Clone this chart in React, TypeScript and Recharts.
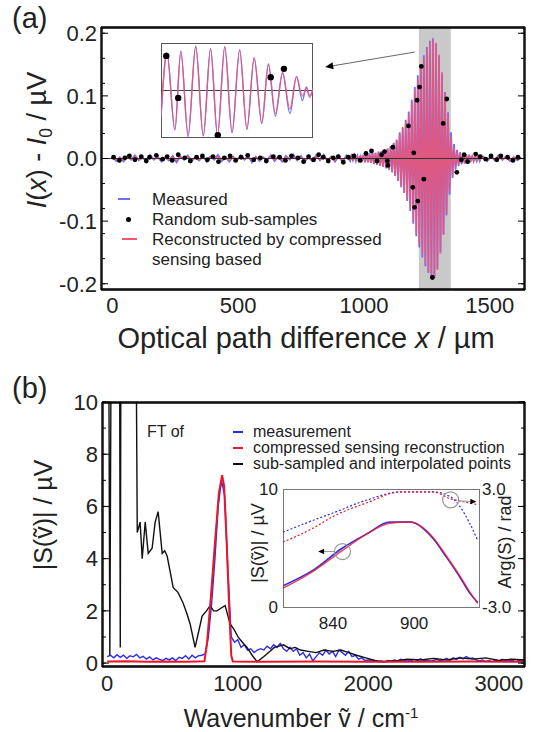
import React from 'react';
import {
  ComposedChart, Line, Scatter, XAxis, YAxis,
  ReferenceArea, ReferenceLine, ReferenceDot,
} from 'recharts';

const FONT = '"Liberation Sans", Arial, Helvetica, sans-serif';

// ---------- panel (a): interferogram ----------
const baseStep = 15;
const measuredBase = [
  0.003, -0.004, 0.002, -0.005, 0.004, -0.002, 0.005, -0.003, 0.001, -0.004,
  0.006, -0.002, 0.003, -0.005, 0.002, -0.003, 0.004, -0.006, 0.003, -0.002,
  0.005, -0.004, 0.002, -0.003, 0.004, -0.005, 0.003, -0.002, 0.006, -0.004,
  0.002, -0.005, 0.003, -0.003, 0.005, -0.002, 0.004, -0.006, 0.003, -0.004,
  0.002, -0.003, 0.005, -0.004, 0.003, -0.005, 0.004, -0.002, 0.006, -0.003,
  0.004, -0.005, 0.002, -0.004, 0.005, -0.003, 0.006, -0.004, 0.003, -0.005,
  0.004, -0.006, 0.005, -0.004,
];
const reconBase = [
  0.002, -0.002, 0.001, -0.003, 0.002, -0.001, 0.003, -0.002, 0.001, -0.002,
  0.003, -0.001, 0.002, -0.003, 0.001, -0.002, 0.002, -0.003, 0.002, -0.001,
  0.003, -0.002, 0.001, -0.002, 0.002, -0.003, 0.002, -0.001, 0.003, -0.002,
  0.001, -0.003, 0.002, -0.002, 0.003, -0.001, 0.002, -0.003, 0.002, -0.002,
  0.001, -0.002, 0.003, -0.002, 0.002, -0.003, 0.002, -0.001, 0.003, -0.002,
  0.002, -0.003, 0.001, -0.002, 0.003, -0.002, 0.003, -0.002, 0.002, -0.003,
  0.002, -0.003, 0.003, -0.002,
];
const burstStart = 950;
const burstStep = 6;
const measuredBurst = [
  0.004, -0.003, 0.005, -0.004, 0.004, -0.005, 0.005, -0.004, 0.006, -0.006,
  0.007, -0.006, 0.008, -0.007, 0.008, -0.009, 0.009, -0.010, 0.011, -0.012,
  0.012, -0.013, 0.014, -0.016, 0.016, -0.018, 0.020, -0.022, 0.025, -0.028,
  0.030, -0.036, 0.042, -0.046, 0.050, -0.055, 0.062, -0.068, 0.075, -0.084,
  0.094, -0.104, 0.114, -0.124, 0.133, -0.142, 0.150, -0.158, 0.165, -0.172,
  0.178, -0.183, 0.188, -0.191, 0.192, -0.191, 0.184, -0.176, 0.164, -0.150,
  0.136, -0.121, 0.106, -0.091, 0.074, -0.058, 0.042, -0.031, 0.023, -0.018,
  0.014, -0.012, 0.010, -0.009, 0.008, -0.008, 0.007, -0.006, 0.006, -0.005,
  0.005, -0.004, 0.004, -0.004, 0.003, -0.004, 0.003,
];
const reconBurst = [
  0.003, -0.002, 0.003, -0.003, 0.003, -0.004, 0.004, -0.004, 0.005, -0.005,
  0.006, -0.006, 0.007, -0.007, 0.008, -0.008, 0.009, -0.009, 0.010, -0.011,
  0.012, -0.013, 0.014, -0.015, 0.016, -0.018, 0.020, -0.022, 0.024, -0.027,
  0.030, -0.035, 0.040, -0.045, 0.050, -0.055, 0.060, -0.066, 0.072, -0.080,
  0.090, -0.100, 0.110, -0.120, 0.128, -0.137, 0.145, -0.152, 0.160, -0.168,
  0.175, -0.181, 0.186, -0.189, 0.190, -0.190, 0.185, -0.178, 0.166, -0.152,
  0.138, -0.122, 0.105, -0.088, 0.070, -0.052, 0.036, -0.026, 0.018, -0.014,
  0.011, -0.010, 0.008, -0.007, 0.007, -0.006, 0.006, -0.005, 0.005, -0.004,
  0.004, -0.004, 0.003, -0.003, 0.003, -0.002, 0.002,
];
const tailStart = 1475;
const tailStep = 15;
const measuredTail = [0.003, -0.004, 0.004, -0.003, 0.005, -0.002, 0.003, -0.004, 0.002, -0.003, 0.002];
const reconTail = [0.002, -0.003, 0.003, -0.002, 0.003, -0.002, 0.002, -0.003, 0.002, -0.002, 0.001];

const sampleX = [
  5, 28, 50, 68, 90, 115, 135, 148, 175, 200, 218, 238, 262, 288, 310, 335, 358, 378, 400, 422,
  445, 468, 490, 512, 538, 562, 588, 612, 640, 665, 688, 712, 738, 760, 780, 800, 820, 838, 858, 878,
  898, 918, 938, 960, 985, 1008, 1030, 1052, 1070, 1082, 1093, 1095, 1115, 1177, 1194, 1198, 1201, 1211, 1214, 1221,
  1228, 1238, 1272, 1315, 1329, 1369, 1387, 1398, 1412, 1444, 1462, 1484, 1505, 1528, 1544, 1571, 1592, 1612,
];
const sampleY = [
  0.002, -0.003, 0.001, 0.004, -0.002, 0.003, -0.004, 0.002, 0.005, -0.001, 0.003, -0.003, 0.006, 0.001, -0.004, 0.002, 0.004, -0.002, 0.003, -0.005,
  0.001, 0.004, -0.003, 0.002, 0.005, -0.002, 0.001, -0.004, 0.003, 0.002, -0.003, 0.004, 0.001, -0.005, 0.003, -0.002, 0.006, 0.002, -0.004, 0.001,
  0.003, -0.006, 0.002, 0.004, -0.003, 0.008, 0.012, -0.004, 0.006, 0.011, -0.004, -0.011, 0.018, 0.052, -0.046, 0.009, -0.078, 0.093, -0.068, 0.114,
  0.147, -0.033, -0.190, 0.056, 0.095, -0.022, -0.002, 0.006, -0.005, 0.007, 0.003, -0.001, 0.004, -0.002, 0.004, 0.002, -0.003, 0.002,
];

const xTicksA = [0, 500, 1000, 1500];
const yTicksA = [-0.2, -0.1, 0, 0.1, 0.2];
const xMinorA = [0, 100, 200, 300, 400, 500, 600, 700, 800, 900, 1000, 1100, 1200, 1300, 1400, 1500, 1600];
const yMinorA = [-0.2, -0.18, -0.16, -0.14, -0.12, -0.1, -0.08, -0.06, -0.04, -0.02, 0, 0.02, 0.04, 0.06, 0.08, 0.1, 0.12, 0.14, 0.16, 0.18, 0.2];

// zoomed inset of the burst (peaks / troughs)
const insetX = [40, 58, 82, 100, 122, 145, 168, 190, 211, 233, 255, 278, 300, 322, 345, 365, 386, 408, 430, 450, 468, 480, 490, 500];
const insetRed = [-0.55, 0.8, -0.84, 0.84, -0.96, 0.96, -0.97, 0.91, -0.97, 0.95, -0.91, 0.88, -0.84, 0.72, -0.7, 0.58, -0.5, 0.4, -0.4, 0.3, -0.12, 0.05, -0.15, 0.05];
const insetBlue = [-0.6, 0.82, -0.86, 0.86, -1.0, 0.96, -0.99, 0.91, -0.98, 0.95, -0.92, 0.88, -0.84, 0.7, -0.72, 0.56, -0.56, 0.38, -0.5, 0.3, -0.22, 0.08, -0.12, 0.02];
const insetSampleX = [56, 92, 212, 372, 412];
const insetSampleY = [0.75, -0.16, -0.97, 0.29, 0.47];

// ---------- panel (b): spectra ----------
const measStep = 25;
const measuredSpectrum = [
  0.25, 0.3, 0.2, 0.32, 0.22, 0.3, 0.18, 0.28, 0.24, 0.33,
  0.2, 0.26, 0.15, 0.24, 0.12, 0.2, 0.14, 0.1, 0.18, 0.12,
  0.2, 0.1, 0.22, 0.18, 0.28, 0.16, 0.3, 0.2, 0.28, 0.3,
  0.35, 1.0, 2.3, 4.0, 6.0, 7.0, 6.4, 3.5, 1.0, 0.8,
  0.9, 0.6, 0.7, 0.5, 0.55, 0.4, 0.5, 0.55, 0.5, 0.65,
  0.55, 0.7, 0.6, 0.75, 0.55, 0.45, 0.6, 0.45, 0.55, 0.3,
  0.4, 0.2, 0.35, 0.08, 0.25, 0.4, 0.3, 0.5, 0.35, 0.45,
  0.25, 0.5, 0.4, 0.3, 0.45, 0.25, 0.3, 0.15, 0.2, 0.1,
  0.12, 0.08, 0.1, 0.05, 0.08, 0.05, 0.1, 0.06, 0.12, 0.08,
  0.15, 0.1, 0.12, 0.08, 0.14, 0.1, 0.16, 0.09, 0.12, 0.07,
  0.1, 0.14, 0.08, 0.12, 0.18, 0.1, 0.2, 0.14, 0.22, 0.16,
  0.25, 0.18, 0.2, 0.12, 0.08, 0.12, 0.06, 0.1, 0.05, 0.12,
  0.08, 0.15, 0.1, 0.12, 0.08, 0.14, 0.1, 0.12, 0.09,
];
const csSpectrum = [
  [0, 0.06], [150, 0.07], [300, 0.05], [450, 0.06], [600, 0.05], [745, 0.07], [765, 0.8], [795, 2.6],
  [825, 4.6], [855, 6.5], [880, 7.2], [895, 6.8], [915, 4.6], [935, 2.0], [950, 0.3], [962, 0.06],
  [1200, 0.05], [1600, 0.06], [2000, 0.05], [2400, 0.05], [2800, 0.06], [3200, 0.05],
];
const interpSpectrum = [
  [0, 30], [20, 0.3], [44, 30], [87, 30], [100, 0.6], [112, 30], [201, 30], [230, 5.0], [252, 5.4],
  [268, 4.0], [291, 5.4], [314, 4.2], [344, 4.4], [367, 5.4], [390, 5.8], [421, 4.2], [440, 4.3],
  [459, 4.1], [482, 3.5], [505, 2.9], [543, 2.7], [581, 2.3], [610, 1.9], [635, 1.5], [673, 0.6],
  [700, 1.2], [727, 1.8], [760, 2.0], [788, 2.2], [815, 2.0], [842, 2.0], [870, 2.1], [903, 2.2],
  [925, 1.8], [941, 1.5], [970, 1.3], [1002, 1.0], [1035, 0.8], [1071, 0.6], [1110, 0.3], [1148, 0.05],
  [1200, 0.25], [1247, 0.45], [1280, 0.6], [1315, 0.65], [1350, 0.7], [1400, 0.55], [1440, 0.6],
  [1480, 0.5], [1540, 0.45], [1600, 0.4], [1660, 0.5], [1730, 0.45], [1790, 0.5], [1850, 0.4],
  [1910, 0.3], [1980, 0.2], [2050, 0.1], [2110, 0.05], [2170, 0.08], [2230, 0.1], [2300, 0.15],
  [2400, 0.12], [2500, 0.18], [2600, 0.12], [2700, 0.2], [2800, 0.15], [2900, 0.2], [3000, 0.1],
  [3100, 0.15], [3200, 0.12],
];
const xTicksB = [0, 1000, 2000, 3000];
const yTicksB = [0, 2, 4, 6, 8, 10];
const xMinorB = [0, 200, 400, 600, 800, 1000, 1200, 1400, 1600, 1800, 2000, 2200, 2400, 2600, 2800, 3000, 3200];
const yMinorB = [0, 0.5, 1, 1.5, 2, 2.5, 3, 3.5, 4, 4.5, 5, 5.5, 6, 6.5, 7, 7.5, 8, 8.5, 9, 9.5, 10];

// inset of (b): magnitude and phase around the peak
const magMeasured = [[803, 1.8], [825, 3.1], [847, 5.0], [865, 6.2], [882, 7.2], [897, 7.2], [914, 5.8], [924, 4.2], [934, 2.5], [941, 1.2], [947, 0.4]];
const magCs = [[803, 1.6], [825, 3.0], [847, 4.8], [865, 6.2], [882, 7.1], [897, 7.2], [914, 5.9], [924, 4.3], [934, 2.6], [941, 1.3], [947, 0.3]];
const phaseMeasured = [[803, 0.8], [825, 1.4], [840, 1.78], [865, 2.44], [890, 2.85], [914, 2.85], [927, 2.6], [934, 2.1], [941, 1.27], [947, 0.4]];
const phaseCs = [[803, 0.3], [825, 1.0], [840, 1.6], [865, 2.3], [890, 2.85], [914, 2.85], [927, 2.5], [940, 2.3], [947, 2.2]];

// ---------- helpers ----------
const seg = (ys: number[], x0: number, step: number) => ys.map((y, i) => ({ x: x0 + i * step, y }));
const pairs = (p: number[][]) => p.map(([x, y]) => ({ x, y }));
const zip = (xs: number[], ys: number[]) => xs.map((x, i) => ({ x, y: ys[i] }));

const measuredA = [...seg(measuredBase, 0, baseStep), ...seg(measuredBurst, burstStart, burstStep), ...seg(measuredTail, tailStart, tailStep)];
const reconA = [...seg(reconBase, 0, baseStep), ...seg(reconBurst, burstStart, burstStep), ...seg(reconTail, tailStart, tailStep)];
const samplesA = zip(sampleX, sampleY);

const BLUE_A = '#6e6cff';
const RED_A = '#f2566c';
const BLUE_B = '#2b2bf0';
const RED_B = '#e8162a';

const dot = (r: number) => (p: any) => <circle cx={p.cx} cy={p.cy} r={r} fill="#000" />;
const noLabel = () => <g />;

const arrow = (size: number, color: string) => (p: any) => {
  const { x1, y1, x2, y2 } = p;
  const a = Math.atan2(y2 - y1, x2 - x1);
  const hx = x2 - size * Math.cos(a);
  const hy = y2 - size * Math.sin(a);
  const w = size * 0.45;
  const pts = `${x2},${y2} ${hx - w * Math.sin(a)},${hy + w * Math.cos(a)} ${hx + w * Math.sin(a)},${hy - w * Math.cos(a)}`;
  return (
    <g>
      <line x1={x1} y1={y1} x2={hx} y2={hy} stroke={color} strokeWidth={1} />
      <polygon points={pts} fill="#000" />
    </g>
  );
};

// frame with inward ticks on all four sides
function frameAxes(id: string, xd: number[], yd: number[], xt: number[], yt: number[], size: number) {
  const line = { stroke: '#000', strokeWidth: 1.4 };
  const tl = { stroke: '#000', strokeWidth: 1 };
  const common = { allowDataOverflow: true, tick: noLabel, tickSize: size, mirror: true, axisLine: line, tickLine: tl };
  return [
    <XAxis key={id + 'b'} xAxisId={id + 'b'} orientation="bottom" type="number" domain={xd} ticks={xt} height={1} {...common} />,
    <XAxis key={id + 't'} xAxisId={id + 't'} orientation="top" type="number" domain={xd} ticks={xt} height={1} {...common} />,
    <YAxis key={id + 'l'} yAxisId={id + 'l'} orientation="left" type="number" domain={yd} ticks={yt} width={1} {...common} />,
    <YAxis key={id + 'r'} yAxisId={id + 'r'} orientation="right" type="number" domain={yd} ticks={yt} width={1} {...common} />,
  ];
}

const Txt = ({ x, y, size, children, align = 'center', rotate = false }: any) => (
  <div
    style={{
      position: 'absolute', left: x, top: y, fontFamily: FONT, fontSize: size, lineHeight: 1,
      whiteSpace: 'nowrap', color: '#222',
      transform: `${align === 'center' ? 'translate(-50%, -50%)' : 'translateY(-50%)'}${rotate ? ' rotate(-90deg)' : ''}`,
    }}
  >
    {children}
  </div>
);

const tickA = { fill: '#222', fontSize: 22, fontFamily: FONT };
const tickIn = { fill: '#222', fontSize: 17, fontFamily: FONT };

const xDomA = [-45, 1640];
const yDomA = [-0.21, 0.21];
const xDomB = [-40, 3200];
const yDomB = [-0.15, 10];

export default function App() {
  return (
    <div style={{ position: 'absolute', left: 0, top: 0, width: 534, height: 732, background: '#fff', overflow: 'hidden' }}>
      {/* ---------------- panel (a) ---------------- */}
      <div style={{ position: 'absolute', left: 0, top: 0 }}>
        <ComposedChart width={534} height={360} margin={{ top: 27, right: 9, bottom: 0, left: 0 }}>
          <XAxis xAxisId="a" dataKey="x" type="number" domain={xDomA} allowDataOverflow ticks={xTicksA}
            tickLine={false} axisLine={false} tick={tickA} tickSize={5} tickMargin={2} height={70} />
          <YAxis yAxisId="a" dataKey="y" type="number" domain={yDomA} allowDataOverflow ticks={yTicksA}
            tickFormatter={(v: number) => v.toFixed(1)} tickLine={false} axisLine={false} tick={tickA}
            tickSize={2} tickMargin={2} width={101} />
          {frameAxes('am', xDomA, yDomA, xMinorA, yMinorA, 3)}
          {frameAxes('aM', xDomA, yDomA, xTicksA, yTicksA, 7)}
          <ReferenceArea xAxisId="a" yAxisId="a" x1={1218} x2={1345} y1={yDomA[0]} y2={yDomA[1]} fill="#c9c9c9" fillOpacity={1} stroke="none" />
          <Line xAxisId="a" yAxisId="a" data={measuredA} dataKey="y" type="linear" stroke={BLUE_A} strokeWidth={1.8} dot={false} isAnimationActive={false} />
          <Line xAxisId="a" yAxisId="a" data={reconA} dataKey="y" type="linear" stroke={RED_A} strokeOpacity={0.85} strokeWidth={1.6} dot={false} isAnimationActive={false} />
          <ReferenceLine xAxisId="a" yAxisId="a" y={0} stroke="#333" strokeWidth={1} />
          <Scatter xAxisId="a" yAxisId="a" data={samplesA} dataKey="y" shape={dot(2.4)} isAnimationActive={false} />
          <ReferenceLine xAxisId="a" yAxisId="a" segment={[{ x: 1202, y: 0.17 }, { x: 846, y: 0.146 }]} shape={arrow(8, '#666')} />
        </ComposedChart>
      </div>

      {/* inset of (a) */}
      <div style={{ position: 'absolute', left: 161, top: 43, width: 152, height: 95, border: '1px solid #555', boxSizing: 'border-box' }} />
      <div style={{ position: 'absolute', left: 161, top: 43 }}>
        <ComposedChart width={152} height={95} margin={{ top: 0, right: 0, bottom: 0, left: 0 }}>
          <XAxis dataKey="x" type="number" domain={[40, 500]} hide allowDataOverflow />
          <YAxis dataKey="y" type="number" domain={[-1.03, 1.03]} hide allowDataOverflow />
          <ReferenceLine y={0} stroke="#444" strokeWidth={1} />
          <Line data={zip(insetX, insetBlue)} dataKey="y" type="monotone" stroke={BLUE_A} strokeWidth={1.3} dot={false} isAnimationActive={false} />
          <Line data={zip(insetX, insetRed)} dataKey="y" type="monotone" stroke={RED_A} strokeOpacity={0.85} strokeWidth={1.3} dot={false} isAnimationActive={false} />
          <Scatter data={zip(insetSampleX, insetSampleY)} dataKey="y" shape={dot(3.2)} isAnimationActive={false} />
        </ComposedChart>
      </div>

      <Txt x={12} y={18} size={29} align="left">(a)</Txt>
      <Txt x={40} y={140} size={27} rotate>
        <i>I</i>(<i>x</i>) - <i>I</i><sub style={{ fontSize: '0.65em' }}>0</sub> / µV
      </Txt>
      <Txt x={306} y={338} size={29}>
        Optical path difference <i>x</i> / µm
      </Txt>

      {/* legend (a) */}
      <div style={{ position: 'absolute', left: 118, top: 198, width: 12, height: 1.5, background: BLUE_A }} />
      <Txt x={152} y={199} size={17} align="left">Measured</Txt>
      <div style={{ position: 'absolute', left: 126, top: 217, width: 5, height: 5, borderRadius: 3, background: '#000' }} />
      <Txt x={152} y={219} size={17} align="left">Random sub-samples</Txt>
      <div style={{ position: 'absolute', left: 122, top: 238, width: 15, height: 1.5, background: RED_A }} />
      <Txt x={152} y={239} size={17} align="left">Reconstructed by compressed</Txt>
      <Txt x={152} y={259} size={17} align="left">sensing based</Txt>

      {/* ---------------- panel (b) ---------------- */}
      <div style={{ position: 'absolute', left: 0, top: 370 }}>
        <ComposedChart width={534} height={362} margin={{ top: 32, right: 9, bottom: 0, left: 0 }}>
          <XAxis xAxisId="b" dataKey="x" type="number" domain={xDomB} allowDataOverflow ticks={xTicksB}
            tickLine={false} axisLine={false} tick={tickA} tickSize={6} tickMargin={2} height={65} />
          <YAxis yAxisId="b" dataKey="y" type="number" domain={yDomB} allowDataOverflow ticks={yTicksB}
            tickLine={false} axisLine={false} tick={tickA} tickSize={2} tickMargin={2} width={102} />
          {frameAxes('bm', xDomB, yDomB, xMinorB, yMinorB, 3)}
          {frameAxes('bM', xDomB, yDomB, xTicksB, yTicksB, 7)}
          <Line xAxisId="b" yAxisId="b" data={seg(measuredSpectrum, 0, measStep)} dataKey="y" type="linear" stroke={BLUE_B} strokeWidth={1.4} dot={false} isAnimationActive={false} />
          <Line xAxisId="b" yAxisId="b" data={pairs(interpSpectrum)} dataKey="y" type="linear" stroke="#111" strokeWidth={1.4} dot={false} isAnimationActive={false} />
          <Line xAxisId="b" yAxisId="b" data={pairs(csSpectrum)} dataKey="y" type="linear" stroke={RED_B} strokeWidth={2} dot={false} isAnimationActive={false} />
        </ComposedChart>
      </div>

      {/* inset of (b) */}
      <div style={{ position: 'absolute', left: 283, top: 489, width: 197, height: 119, border: '1px solid #777', boxSizing: 'border-box' }} />
      <div style={{ position: 'absolute', left: 240, top: 470 }}>
        <ComposedChart width={300} height={170} margin={{ top: 19, right: 21, bottom: 0, left: 0 }}>
          <XAxis dataKey="x" type="number" domain={[803, 948]} allowDataOverflow ticks={[840, 900]}
            tickLine={false} axisLine={false} tick={tickIn} tickSize={8} tickMargin={2} height={33} />
          <YAxis yAxisId="mag" dataKey="y" type="number" domain={[0, 10]} allowDataOverflow ticks={[0, 10]}
            tickLine={false} axisLine={false} tick={tickIn} tickSize={2} tickMargin={3} width={43} />
          <YAxis yAxisId="ph" dataKey="y" orientation="right" type="number" domain={[-3, 3]} allowDataOverflow ticks={[-3, 3]}
            tickFormatter={(v: number) => v.toFixed(1)} tickLine={false} axisLine={false} tick={tickIn}
            tickSize={1} tickMargin={2} width={40} />
          <Line yAxisId="ph" data={pairs(phaseMeasured)} dataKey="y" type="monotone" stroke={BLUE_B} strokeWidth={1.2} strokeDasharray="2 2" dot={false} isAnimationActive={false} />
          <Line yAxisId="ph" data={pairs(phaseCs)} dataKey="y" type="monotone" stroke={RED_B} strokeWidth={1.2} strokeDasharray="2 2" dot={false} isAnimationActive={false} />
          <Line yAxisId="mag" data={pairs(magMeasured)} dataKey="y" type="monotone" stroke={BLUE_B} strokeWidth={1.5} dot={false} isAnimationActive={false} />
          <Line yAxisId="mag" data={pairs(magCs)} dataKey="y" type="monotone" stroke={RED_B} strokeOpacity={0.8} strokeWidth={1.5} dot={false} isAnimationActive={false} />
          <ReferenceDot yAxisId="mag" x={847} y={4.7} r={8} fill="none" stroke="#999" strokeWidth={1.2} />
          <ReferenceDot yAxisId="ph" x={927} y={2.45} r={8} fill="none" stroke="#999" strokeWidth={1.2} />
          <ReferenceLine yAxisId="mag" segment={[{ x: 841, y: 4.7 }, { x: 829, y: 4.7 }]} shape={arrow(6, '#999')} />
          <ReferenceLine yAxisId="ph" segment={[{ x: 933, y: 2.4 }, { x: 946, y: 2.35 }]} shape={arrow(6, '#999')} />
        </ComposedChart>
      </div>

      <Txt x={12} y={388} size={29} align="left">(b)</Txt>
      <Txt x={43} y={515} size={25} rotate>|S(ṽ)| / µV</Txt>
      <Txt x={301} y={718} size={25}>
        Wavenumber ṽ / cm<sup style={{ fontSize: '0.6em' }}>-1</sup>
      </Txt>
      <Txt x={258} y={543} size={18} rotate>|S(ṽ)| / µV</Txt>
      <Txt x={505} y={542} size={18} rotate>Arg(S) / rad</Txt>

      {/* legend (b) */}
      <Txt x={147} y={432} size={16} align="left">FT of</Txt>
      <div style={{ position: 'absolute', left: 233, top: 431, width: 10, height: 1.5, background: BLUE_B }} />
      <Txt x={253} y={432} size={16} align="left">measurement</Txt>
      <div style={{ position: 'absolute', left: 233, top: 447, width: 10, height: 1.5, background: RED_B }} />
      <Txt x={253} y={448} size={16} align="left">compressed sensing reconstruction</Txt>
      <div style={{ position: 'absolute', left: 233, top: 463, width: 10, height: 1.5, background: '#111' }} />
      <Txt x={253} y={464} size={16} align="left">sub-sampled and interpolated points</Txt>
    </div>
  );
}
